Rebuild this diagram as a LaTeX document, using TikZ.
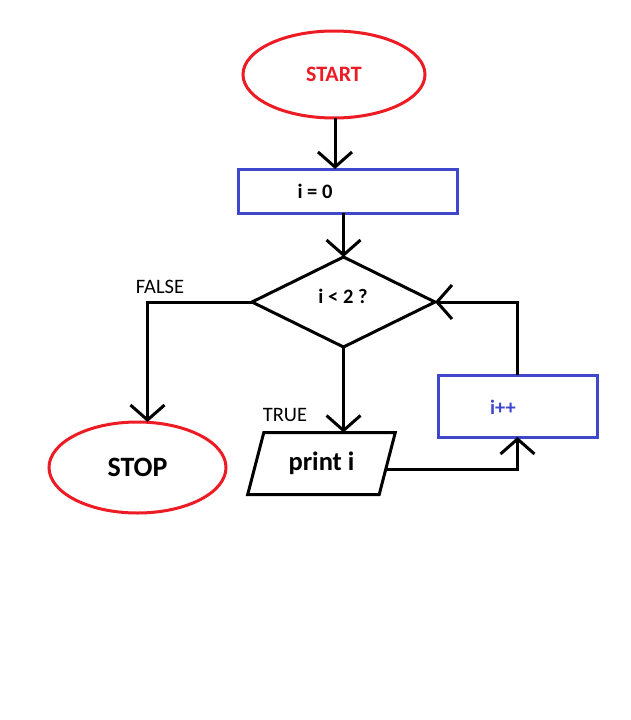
\documentclass[tikz,border=0pt]{standalone}
\usepackage{fontspec}
\setmainfont{Carlito}
\usetikzlibrary{shapes.geometric,arrows.meta,calc}
\definecolor{pred}{HTML}{ED1C24}
\definecolor{pblue}{HTML}{3F48CC}
\begin{document}
\begin{tikzpicture}[x=1pt,y=-1pt,
  every node/.style={inner sep=0pt, outer sep=0pt},
  term/.style={ellipse, draw=pred, line width=3pt},
  proc/.style={rectangle, draw=pblue, line width=3pt},
  dec/.style={diamond, draw=black, line width=3pt},
  io/.style={trapezium, trapezium left angle=70, trapezium right angle=110,
    trapezium stretches=true, draw=black, line width=3pt, inner sep=2pt},
  flow/.style={line width=3pt, -{Straight Barb[length=15pt 0 0, width=34pt 0 0]}},
  lbl/.style={font=\fontsize{20.5}{24}\selectfont},
  big/.style={font=\fontsize{26.5}{30}\selectfont\bfseries},
  mid/.style={font=\fontsize{20.5}{24}\selectfont\bfseries}]
\fill[white] (0,0) rectangle (630,720);
\useasboundingbox (0,0) rectangle (630,720);

\node[term, minimum width=182pt, minimum height=87pt,
  font=\fontsize{22}{26}\selectfont\bfseries, text=pred] (start) at (334,74.5) {START};
\node[proc, minimum width=219pt, minimum height=44pt] (init) at (347.5,191) {};
\node[mid] (initt) at (315,191) {i = 0};
\node[dec, minimum width=183pt, minimum height=90pt] (dec) at (343.5,302) {};
\node[mid] (dect) at (343,296) {i < 2 ?};
\node[term, minimum width=177pt, minimum height=91pt, font=\fontsize{28}{32}\selectfont\bfseries] (stop) at (137.5,467.5) {STOP};
\node[io, minimum width=149pt, minimum height=62pt, big] (pr) at (321.5,463.5) {print i};
\node[proc, minimum width=159pt, minimum height=62pt] (inc) at (517.5,406) {};
\node[mid, text=pblue] (inct) at (503,407) {i++};

\node[lbl] (false) at (160,287) {FALSE};
\node[lbl] (true) at (285,415) {TRUE};

\coordinate (prout) at ($(pr.top right corner)!0.6!(pr.bottom right corner)$);

\draw[flow] (start.south -| 335,0) -- (init.north -| 335,0);
\draw[flow] (init.south -| dec.north) -- (dec.north);
\draw[flow] (dec.west) -| ([xshift=10pt]stop.north);
\draw[flow] (dec.south) -- (dec.south |- pr.north);
\draw[flow] (prout) -| (inc.south);
\draw[flow] (inc.north) |- (dec.east);
\end{tikzpicture}
\end{document}
